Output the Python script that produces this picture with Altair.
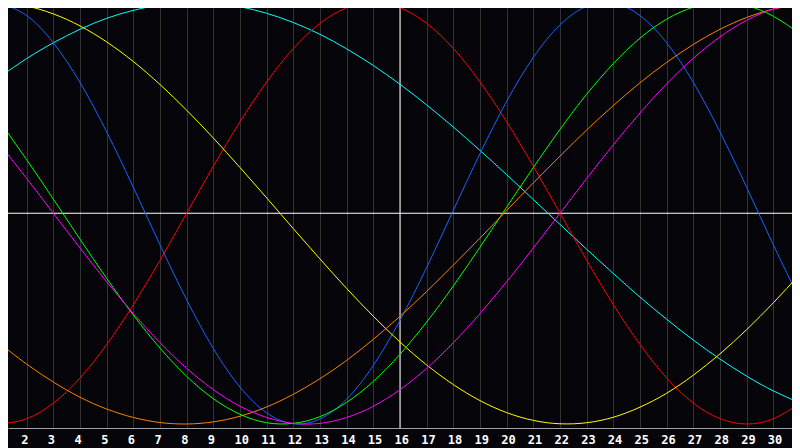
import altair as alt
import pandas as pd

days = list(range(1, 32))
tick_days = list(range(2, 31))

red = [-1.000, -0.975, -0.901, -0.782, -0.623, -0.434, -0.223, 0.000, 0.223, 0.434, 0.623, 0.782, 0.901, 0.975,
       1.000, 0.975, 0.901, 0.782, 0.623, 0.434, 0.223, 0.000, -0.223, -0.434, -0.623, -0.782, -0.901, -0.975,
       -1.000, -0.975, -0.901]
blue = [0.997, 0.938, 0.809, 0.621, 0.386, 0.123, -0.150, -0.411, -0.642, -0.825, -0.947, -0.999, -0.976, -0.882,
        -0.722, -0.508, -0.257, 0.014, 0.283, 0.531, 0.740, 0.894, 0.982, 0.997, 0.938, 0.809, 0.621, 0.386,
        0.123, -0.150, -0.411]
cyan = [0.648, 0.734, 0.809, 0.873, 0.925, 0.963, 0.988, 0.999, 0.997, 0.980, 0.949, 0.905, 0.849, 0.780,
        0.701, 0.612, 0.514, 0.409, 0.298, 0.183, 0.065, -0.053, -0.171, -0.286, -0.398, -0.503, -0.602,
        -0.692, -0.773, -0.843, -0.900]
yellow = [0.999, 0.983, 0.946, 0.889, 0.813, 0.720, 0.611, 0.489, 0.357, 0.217, 0.073, -0.073, -0.217, -0.357,
          -0.489, -0.611, -0.720, -0.813, -0.889, -0.946, -0.983, -0.999, -0.994, -0.968, -0.920, -0.854,
          -0.768, -0.667, -0.552, -0.425, -0.288]
green = [0.433, 0.254, 0.067, -0.123, -0.309, -0.483, -0.640, -0.774, -0.880, -0.954, -0.994, -0.997, -0.965,
         -0.897, -0.798, -0.669, -0.516, -0.345, -0.161, 0.029, 0.217, 0.398, 0.565, 0.710, 0.831, 0.921,
         0.978, 1.000, 0.985, 0.935, 0.851]
orange = [-0.619, -0.716, -0.801, -0.873, -0.929, -0.969, -0.993, -1.000, -0.990, -0.963, -0.919, -0.859,
          -0.785, -0.698, -0.598, -0.489, -0.371, -0.246, -0.118, 0.013, 0.144, 0.271, 0.395, 0.511, 0.619,
          0.716, 0.801, 0.873, 0.929, 0.969, 0.993]
magenta = [0.325, 0.165, 0.000, -0.165, -0.325, -0.476, -0.614, -0.736, -0.837, -0.916, -0.969, -0.997, -0.997,
           -0.969, -0.916, -0.837, -0.736, -0.614, -0.476, -0.325, -0.165, 0.000, 0.165, 0.325, 0.476, 0.614,
           0.736, 0.837, 0.916, 0.969, 0.997]

series_names = ["cyan", "red", "blue", "yellow", "green", "orange", "magenta"]
series_values = [cyan, red, blue, yellow, green, orange, magenta]
series_colors = ["#00ffff", "#ff0000", "#1464ff", "#ffff00", "#00ff00", "#ff8000", "#ff00ff"]

rows = []
for name, vals in zip(series_names, series_values):
    for d, v in zip(days, vals):
        rows.append({"day": d, "value": v, "series": name})
df = pd.DataFrame(rows)

xscale = alt.Scale(domain=[1.3, 30.7], nice=False, zero=False)
yscale = alt.Scale(domain=[-1.019, 0.974], nice=False, zero=False)

xaxis = alt.Axis(values=tick_days, format="d", grid=True, gridColor="#333333", gridWidth=1,
                 domainColor="#a0a0a0", domainWidth=1, ticks=False, tickSize=0,
                 labelColor="#ffffff", labelFont="DejaVu Sans Mono", labelFontWeight="bold",
                 labelFontSize=12, labelAlign="left", labelOffset=-6, labelBaseline="top",
                 labelPadding=6, labelFlush=False, labelOverlap=False, title=None)

hline = alt.Chart(pd.DataFrame({"v": [0.0]})).mark_rule(color="#ffffff", strokeWidth=1).encode(
    y=alt.Y("v:Q", scale=yscale, axis=None))
vline = alt.Chart(pd.DataFrame({"d": [16]})).mark_rule(color="#ffffff", strokeWidth=1).encode(
    x=alt.X("d:Q", scale=xscale, axis=xaxis))

lines = alt.Chart(df).mark_line(strokeWidth=1, clip=True, interpolate="natural").encode(
    x=alt.X("day:Q", scale=xscale, axis=xaxis),
    y=alt.Y("value:Q", scale=yscale, axis=None),
    color=alt.Color("series:N", scale=alt.Scale(domain=series_names, range=series_colors), legend=None),
)

chart = alt.layer(hline, vline, lines).properties(
    width=784, height=420,
    autosize=alt.AutoSizeParams(type="none"),
    padding={"left": 0, "top": 0, "right": 0, "bottom": 20},
    background="#050409",
).configure_view(stroke="transparent")

chart.save("out.html", embed_options={"renderer": "svg", "actions": False})
